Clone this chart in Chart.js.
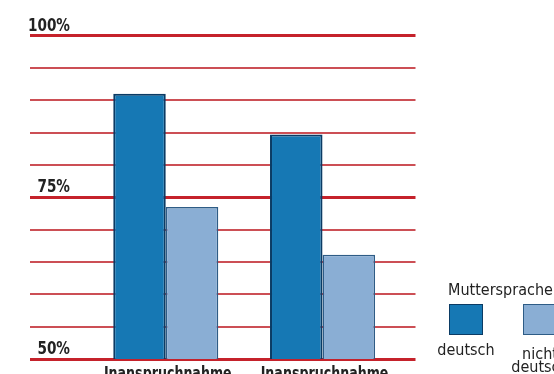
<!DOCTYPE html>
<html>
<head>
<meta charset="utf-8">
<script src="https://cdn.jsdelivr.net/npm/chart.js@4.4.1/dist/chart.umd.min.js"></script>
<style>
  html, body { margin: 0; padding: 0; background: #fff; overflow: hidden; }
  #wrap { position: relative; width: 554px; height: 374px; overflow: hidden; }
  #legend { position: absolute; left: 431px; top: 281.5px; width: 200px;
    font-family: 'DejaVu Sans Condensed', 'DejaVu Sans', sans-serif; font-size: 16px; color: #222; }
  #legend .title { line-height: 16px; padding-left: 17px; white-space: nowrap; }
  #legend .items { display: flex; margin-top: 6.5px; }
  #legend .item { width: 70px; margin-right: 4px; text-align: center; }
  #legend .box { width: 34px; height: 31px; margin: 0 auto; box-sizing: border-box; border: 1.5px solid; }
  #legend .label { line-height: 13px; margin-top: 8px; }
  #legend .label.two { margin-top: 12px; }
</style>
</head>
<body>
<div id="wrap">
  <canvas id="chart" width="554" height="374"></canvas>
  <div id="legend"></div>
</div>
<script>
const categories = ['Inanspruchnahme', 'Inanspruchnahme'];
const deutsch = [91, 84.7];
const nichtDeutsch = [73.5, 66.1];
const yLabels = [50, 75, 100];
const legendTitle = 'Muttersprache';
const seriesNames = ['deutsch', 'nicht deutsch'];

const fillColors = ['#1678b4', '#8aaed4'];
const borderColors = ['#0b3b64', '#2e5c86'];
const FONT = '"DejaVu Sans Condensed", "DejaVu Sans", sans-serif';

// narrow bold text, squeezed horizontally to look like the print font
function narrowText(ctx, text, x, y, align, squeeze) {
  ctx.save();
  ctx.translate(x, y);
  ctx.scale(squeeze, 1);
  ctx.textAlign = align;
  ctx.fillText(text, 0, 0);
  ctx.restore();
}

const labelPlugin = {
  id: 'labels',
  afterDraw(chart) {
    const ctx = chart.ctx;
    const xs = chart.scales.x;
    const ys = chart.scales.y;
    ctx.save();
    ctx.fillStyle = '#222';
    ctx.textBaseline = 'alphabetic';
    ctx.font = 'bold 18px ' + FONT;
    // percent labels sit just above their red line
    yLabels.forEach(v => {
      narrowText(ctx, v + '%', chart.chartArea.left + 40, ys.getPixelForValue(v) - 5, 'right', 0.84);
    });
    // category labels, cut off by the bottom edge
    categories.forEach((c, i) => {
      narrowText(ctx, c, xs.getPixelForValue(i + 1) + 2, chart.chartArea.bottom + 20, 'center', 0.78);
    });
    ctx.restore();
  }
};

const toPoints = arr => arr.map((v, i) => ({ x: i + 1, y: v }));

const chart = new Chart(document.getElementById('chart'), {
  type: 'bar',
  data: {
    datasets: [
      { label: seriesNames[0], data: toPoints(deutsch), backgroundColor: fillColors[0],
        borderColor: borderColors[0], borderWidth: 2, borderSkipped: false },
      { label: seriesNames[1], data: toPoints(nichtDeutsch), backgroundColor: fillColors[1],
        borderColor: borderColors[1], borderWidth: 1.5, borderSkipped: false }
    ]
  },
  options: {
    responsive: false,
    animation: false,
    devicePixelRatio: 1,
    layout: { padding: { left: 30, right: 138.5, top: 35.5, bottom: 0 } },
    datasets: { bar: { categoryPercentage: 0.67, barPercentage: 1 } },
    plugins: { legend: { display: false }, tooltip: { enabled: false } },
    scales: {
      x: {
        type: 'linear',
        min: 0.134,
        max: 2.593,
        offset: false,
        grid: { display: false, drawTicks: false },
        border: { display: false },
        afterBuildTicks: scale => { scale.ticks = categories.map((c, i) => ({ value: i + 1 })); },
        afterFit: scale => { scale.height = 15; },
        ticks: { display: false }
      },
      y: {
        min: 50,
        max: 100,
        ticks: { stepSize: 5, display: false },
        border: { display: false },
        afterFit: scale => { scale.width = 0; },
        grid: {
          drawTicks: false,
          color: c => yLabels.includes(c.tick.value) ? '#c5222b' : '#cc4f55',
          lineWidth: c => yLabels.includes(c.tick.value) ? 3 : 2
        }
      }
    }
  },
  plugins: [labelPlugin]
});

// html legend: box with label underneath
const legend = document.getElementById('legend');
legend.innerHTML = '<div class="title">' + legendTitle + '</div><div class="items">' +
  chart.data.datasets.map(ds =>
    '<div class="item"><div class="box" style="background:' + ds.backgroundColor +
    ';border-color:' + ds.borderColor + '"></div><div class="label' +
    (ds.label.includes(' ') ? ' two' : '') + '">' + ds.label + '</div></div>'
  ).join('') + '</div>';
</script>
</body>
</html>
